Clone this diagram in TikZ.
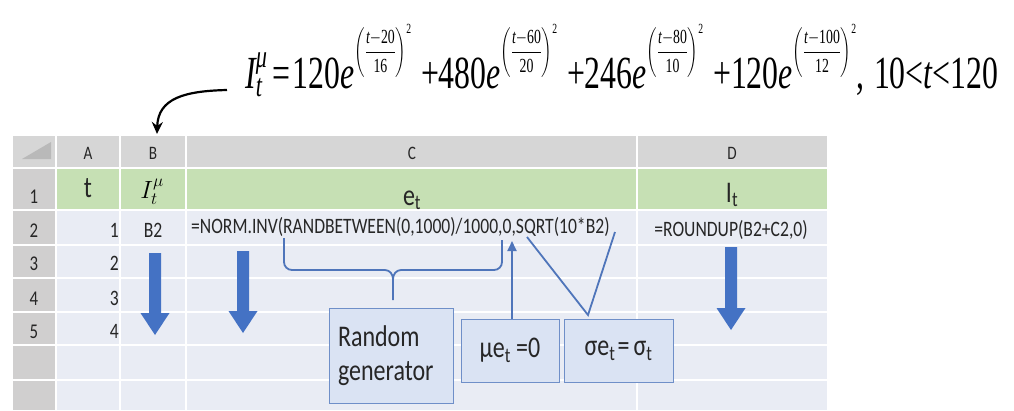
\documentclass[tikz,border=0pt]{standalone}
\usepackage{amsmath}
\usepackage{fontspec}
\setmainfont{Liberation Serif}
\newfontfamily\calib{Carlito}
\usetikzlibrary{arrows.meta}
\definecolor{hdr}{HTML}{D6D6D6}
\definecolor{rowhdr}{HTML}{D0CFCF}
\definecolor{grn}{HTML}{C6E0B4}
\definecolor{cellbg}{HTML}{E9ECF4}
\definecolor{tri}{HTML}{B9B9B9}
\definecolor{arrblue}{HTML}{4472C4}
\definecolor{boxfill}{HTML}{DAE3F3}
\definecolor{boxline}{HTML}{6F8FC8}
\definecolor{linblue}{HTML}{4F75BA}
\definecolor{txt}{HTML}{262626}
\newcommand\sqz[1]{\scalebox{0.8}[1]{#1}}
\newcommand\ti[1]{\text{\itshape #1}}
\newcommand\tu[1]{\text{\upshape #1}}
\newcommand\ex[2]{\ti{e}\raisebox{30pt}{\fontsize{20}{22}\selectfont$\left(\dfrac{\ti{t}{-}\tu{#1}}{\tu{#2}}\right)^{\tu{2}}$}}
\newcommand\blockarrow[3]{%
  \fill[arrblue] (#1-6,#2) -- (#1+6,#2) -- (#1+6,#3-22) -- (#1+14.5,#3-22)
   -- (#1,#3) -- (#1-14.5,#3-22) -- (#1-6,#3-22) -- cycle;}
\begin{document}
\begin{tikzpicture}[x=1pt,y=-1pt,
  hd/.style={inner sep=0pt, text=txt, font={\calib\fontsize{19}{21}\selectfont}},
  rn/.style={inner sep=0pt, text=txt, anchor=base, font={\calib\fontsize{21}{24}\selectfont}},
  val/.style={inner sep=0pt, text=txt, font={\calib\fontsize{22}{24}\selectfont}},
  lab/.style={inner sep=0pt, text=txt, anchor=base, font={\calib\fontsize{30}{34}\selectfont}},
  box/.style={draw=boxline, line width=1pt, fill=boxfill, inner sep=0pt, text=txt,
     font={\calib\fontsize{30}{34}\selectfont}},
  link/.style={draw=linblue, line width=1.8pt},
  gridline/.style={white, line width=1.6pt}]
\useasboundingbox (0,0) rectangle (1014,410);
% sheet background
\fill[hdr] (13,136) rectangle (827,168);
\fill[rowhdr] (13,168) rectangle (56,410);
\fill[grn] (56,168) rectangle (827,210);
\fill[cellbg] (56,210) rectangle (827,410);
\fill[tri] (22,159) -- (51,159) -- (51,142) -- cycle;
\foreach \x in {56,120,186,637} \draw[gridline] (\x,136) -- (\x,410);
\foreach \y in {168,210,245,278,312,345,380} \draw[gridline] (13,\y) -- (827,\y);
% column headers
\node[hd] (hA) at (88,153) {\sqz{A}};
\node[hd] (hB) at (153,153) {\sqz{B}};
\node[hd] (hC) at (412,153) {\sqz{C}};
\node[hd] (hD) at (732,153) {\sqz{D}};
% row numbers
\node[rn] (r1) at (34,203) {\sqz{1}};
\node[rn] (r2) at (34,237) {\sqz{2}};
\node[rn] (r3) at (34,270) {\sqz{3}};
\node[rn] (r4) at (34,305) {\sqz{4}};
\node[rn] (r5) at (34,338) {\sqz{5}};
% row 1 labels
\node[lab] (lt) at (88,197) {\sqz{t}};
\node[inner sep=0pt, anchor=base, font=\fontsize{26}{28}\selectfont] (lI) at (152,198) {$I_t^{\mu}$};
\node[lab] (le) at (412,205) {\sqz{e\textsubscript{t}}};
\node[lab] (lIt) at (732,202) {\sqz{I\textsubscript{t}}};
% row 2..5 values
\node[val, anchor=base east] (a2) at (119,237) {\sqz{1}};
\node[val, anchor=base east] (a3) at (119,270) {\sqz{2}};
\node[val, anchor=base east] (a4) at (119,305) {\sqz{3}};
\node[val, anchor=base east] (a5) at (119,338) {\sqz{4}};
\node[val, anchor=base] (b2) at (153,237) {\sqz{B2}};
\node[val, anchor=base west] (c2) at (191,233) {\sqz{=NORM.INV(RANDBETWEEN(0,1000)/1000,0,SQRT(10*B2)}};
\node[val, anchor=base] (d2) at (731,236) {\sqz{=ROUNDUP(B2+C2,0)}};
% fill-down arrows
\blockarrow{155}{253}{335}
\blockarrow{243}{251}{333}
\blockarrow{731}{247}{330}
% annotation boxes
\node[box, minimum width=124, minimum height=95, text width=106pt, align=left] (rg) at (391,355.5) {\sqz{Random}\\\sqz{generator}};
\node[box, minimum width=98, minimum height=63] (mu) at (510,350.5) {\sqz{μe\textsubscript{t} =0}};
\node[box, minimum width=109, minimum height=63] (sg) at (618.5,350.5) {\sqz{σe\textsubscript{t}\kern3pt=\kern5pt σ\textsubscript{t}}};
% connector end points on the formula text
\coordinate (brL) at (284,238);
\coordinate (brR) at (502,240);
\coordinate (brTip) at (393,300);
\coordinate (muTip) at (512,241);
\coordinate (sgV) at (588,315);
\coordinate (sgL) at (527,237);
\coordinate (sgR) at (615,232);
\draw[link] (brL) -- (284,262) to[out=-90,in=180] (292,270) -- (385,270) to[out=0,in=90] (393,279) -- (brTip);
\draw[link] (brR) -- (502,262) to[out=-90,in=0] (494,270) -- (401,270) to[out=180,in=90] (393,279);
\draw[link, -{Triangle[length=10pt,width=9pt]}] (mu.north -| muTip) -- (muTip);
\draw[link] (sgL) -- (sgV) -- (sgR);
% formula
\node[inner sep=0pt, anchor=base west] (eq) at (245,88) {\resizebox{753pt}{\height}{\fontsize{46}{50}\selectfont
 $\ti{I}_{\ti{t}}^{\ti{μ}}\;\tu{=}\,\tu{120}\ex{20}{16}\;\;\tu{+}\tu{480}\ex{60}{20}\;\;\tu{+}\tu{246}\ex{80}{10}\;\;\tu{+}\tu{120}\ex{100}{12}\tu{,}\;\;\tu{10}\tu{<}\ti{t}\tu{<}\tu{120}$}};
\coordinate (cs) at (227,90);
\coordinate (ce) at (157,134);
\draw[line width=2.2pt, -{Stealth[length=12pt,width=11pt]}] (cs) .. controls (185,91) and (158,98) .. (ce);
\end{tikzpicture}
\end{document}
